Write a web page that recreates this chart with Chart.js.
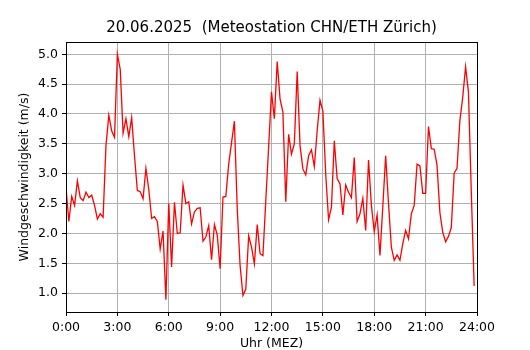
<!DOCTYPE html>
<html>
<head>
<meta charset="utf-8">
<script src="https://cdn.jsdelivr.net/npm/chart.js@4/dist/chart.umd.min.js"></script>
<style>
  html, body { margin: 0; padding: 0; background: #fff; }
  #wind_cv { display: block; }
</style>
</head>
<body>
<canvas id="wind_cv" width="530" height="350"></canvas>
<script>
// Messwerte alle 10 Minuten, 0:00 bis 23:50 (m/s)
var intervalMinutes = 10;
var windSpeed = [
  2.77, 2.20, 2.62, 2.47, 2.88, 2.60, 2.55, 2.69, 2.60, 2.64, 2.47, 2.24,
  2.33, 2.27, 3.47, 3.98, 3.72, 3.61, 5.00, 4.75, 3.68, 3.92, 3.62, 3.94,
  3.30, 2.72, 2.70, 2.58, 3.09, 2.74, 2.25, 2.28, 2.20, 1.74, 2.04, 0.89,
  2.50, 1.44, 2.52, 2.00, 2.01, 2.81, 2.50, 2.53, 2.16, 2.36, 2.42, 2.43,
  1.87, 1.94, 2.13, 1.56, 2.15, 1.97, 1.41, 2.61, 2.62, 3.16, 3.52, 3.88,
  2.41, 1.46, 0.96, 1.07, 1.96, 1.77, 1.49, 2.15, 1.66, 1.63, 2.55, 3.45,
  4.37, 3.92, 4.88, 4.25, 4.03, 2.53, 3.66, 3.33, 3.50, 4.71, 3.47, 3.08,
  2.98, 3.30, 3.40, 3.12, 3.72, 4.23, 4.05, 2.99, 2.23, 2.44, 3.55, 2.92,
  2.83, 2.31, 2.81, 2.69, 2.60, 3.27, 2.20, 2.33, 2.59, 2.05, 3.23, 2.47,
  2.03, 2.31, 1.63, 2.45, 3.30, 2.50, 1.77, 1.55, 1.64, 1.55, 1.83, 2.05,
  1.91, 2.33, 2.47, 3.16, 3.13, 2.67, 2.67, 3.79, 3.42, 3.41, 3.14, 2.35,
  2.02, 1.86, 1.95, 2.10, 3.01, 3.09, 3.89, 4.28, 4.79, 4.37, 2.70, 1.12
];
var xTickHours = [0, 3, 6, 9, 12, 15, 18, 21, 24];
var xTickLabels = ['0:00', '3:00', '6:00', '9:00', '12:00', '15:00', '18:00', '21:00', '24:00'];
var yTicks = [1.0, 1.5, 2.0, 2.5, 3.0, 3.5, 4.0, 4.5, 5.0];

var points = windSpeed.map(function (v, i) {
  return { x: i * intervalMinutes / 60, y: v };
});

// y-Grenzen wie matplotlib (5 % Rand)
var yMin = Math.min.apply(null, windSpeed);
var yMax = Math.max.apply(null, windSpeed);
var yPad = (yMax - yMin) * 0.05;

var fontFamily = '"DejaVu Sans", sans-serif';

// Rahmen auf allen vier Seiten
var framePlugin = {
  id: 'frame',
  afterDraw: function (chart) {
    var a = chart.chartArea;
    var ctx = chart.ctx;
    var l = Math.round(a.left - 0.5) + 0.5;
    var r = Math.round(a.right - 0.5) + 0.5;
    var t = Math.round(a.top - 0.5) + 0.5;
    var b = Math.round(a.bottom - 0.5) + 0.5;
    ctx.save();
    ctx.strokeStyle = '#000';
    ctx.lineWidth = 1;
    ctx.strokeRect(l, t, r - l, b - t);
    ctx.restore();
  }
};

var chart = new Chart(document.getElementById('wind_cv'), {
  type: 'line',
  data: {
    datasets: [{
      data: points,
      borderColor: '#ff0000',
      borderWidth: 1.3,
      pointRadius: 0,
      tension: 0,
      fill: false
    }]
  },
  options: {
    responsive: false,
    animation: false,
    devicePixelRatio: 1,
    layout: { padding: { left: 0, right: 53, top: 0, bottom: 0 } },
    plugins: {
      legend: { display: false },
      tooltip: { enabled: false },
      title: {
        display: true,
        fullSize: false,
        text: '20.06.2025  (Meteostation CHN/ETH Zürich)',
        color: '#000',
        font: { family: fontFamily, size: 15, weight: 'normal', lineHeight: 1.2 },
        padding: { top: 19, bottom: 5 }
      }
    },
    scales: {
      x: {
        type: 'linear',
        min: 0,
        max: 24,
        afterBuildTicks: function (axis) {
          axis.ticks = xTickHours.map(function (h) { return { value: h }; });
        },
        afterFit: function (axis) { axis.height = 38; },
        ticks: {
          color: '#000',
          padding: 4,
          maxRotation: 0,
          autoSkip: false,
          font: { family: fontFamily, size: 12.5 },
          callback: function (value) { return xTickLabels[xTickHours.indexOf(value)]; }
        },
        grid: { color: '#b0b0b0', lineWidth: 1, tickColor: '#000', tickLength: 4 },
        border: { display: false },
        title: {
          display: true,
          text: 'Uhr (MEZ)',
          color: '#000',
          font: { family: fontFamily, size: 12.5, lineHeight: 1 },
          padding: { top: 0, bottom: 0 }
        }
      },
      y: {
        min: yMin - yPad,
        max: yMax + yPad,
        afterBuildTicks: function (axis) {
          axis.ticks = yTicks.map(function (v) { return { value: v }; });
        },
        afterFit: function (axis) { axis.width = 66; },
        ticks: {
          color: '#000',
          padding: 4,
          font: { family: fontFamily, size: 12.5 },
          callback: function (value) { return value.toFixed(1); }
        },
        grid: { color: '#b0b0b0', lineWidth: 1, tickColor: '#000', tickLength: 4 },
        border: { display: false },
        title: {
          display: true,
          text: 'Windgeschwindigkeit (m/s)',
          color: '#000',
          font: { family: fontFamily, size: 12.5, lineHeight: 1.2 },
          padding: { top: 17, bottom: 0 }
        }
      }
    }
  },
  plugins: [framePlugin]
});
</script>
</body>
</html>
